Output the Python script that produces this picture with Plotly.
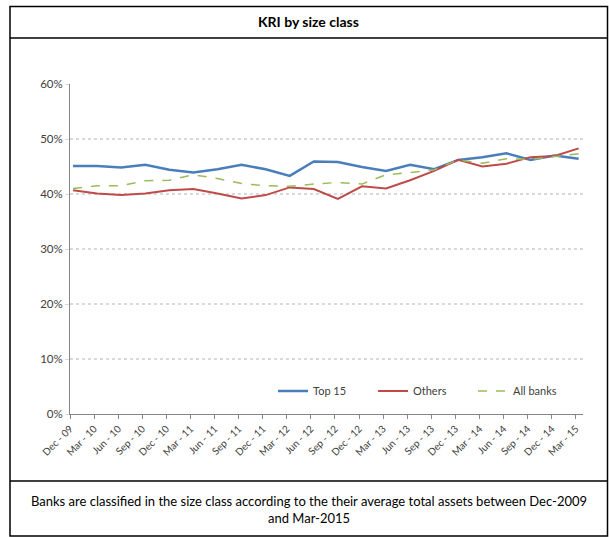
import plotly.graph_objects as go

# Quarter labels
quarters = ["Dec - 09", "Mar - 10", "Jun - 10", "Sep - 10", "Dec - 10", "Mar - 11",
            "Jun - 11", "Sep - 11", "Dec - 11", "Mar - 12", "Jun - 12", "Sep - 12",
            "Dec - 12", "Mar - 13", "Jun - 13", "Sep - 13", "Dec - 13", "Mar - 14",
            "Jun - 14", "Sep - 14", "Dec - 14", "Mar - 15"]

# KRI values (%) by size class
top15 = [45.1, 45.1, 44.8, 45.3, 44.4, 43.9, 44.5, 45.3, 44.5, 43.3, 45.9,
         45.8, 44.9, 44.2, 45.3, 44.5, 46.2, 46.7, 47.4, 46.2, 47.0, 46.4]
others = [40.7, 40.1, 39.8, 40.1, 40.7, 40.9, 40.1, 39.2, 39.8, 41.2, 40.9,
          39.1, 41.4, 41.0, 42.5, 44.2, 46.2, 45.0, 45.5, 46.7, 46.9, 48.3]
all_banks = [41.0, 41.5, 41.5, 42.4, 42.5, 43.5, 42.8, 41.9, 41.5, 41.4, 41.8,
             42.1, 41.8, 43.5, 43.9, 44.4, 46.2, 45.6, 46.4, 46.3, 46.8, 47.3]

y_ticks = [0, 10, 20, 30, 40, 50, 60]

W, H = 609, 537
M_L, M_R, M_T, M_B = 70, 26, 84, 123
PW = W - M_L - M_R
PH = H - M_T - M_B


def px(x):
    return (x - M_L) / PW


def py(y):
    return (H - M_B - y) / PH


idx = list(range(len(quarters)))
font = "Lato, 'Open Sans', sans-serif"

fig = go.Figure()
fig.add_trace(go.Scatter(x=idx, y=top15, mode="lines", name="Top 15",
                         line=dict(color="#4a7ebb", width=2.5)))
fig.add_trace(go.Scatter(x=idx, y=others, mode="lines", name="Others",
                         line=dict(color="#be4b48", width=2)))
fig.add_trace(go.Scatter(x=idx, y=all_banks, mode="lines", name="All banks",
                         line=dict(color="#9bbb59", width=1.5, dash="dash")))

# frame: outer box, title divider, caption divider
frame = dict(color="black", width=1.5)
fig.add_shape(type="rect", xref="paper", yref="paper",
              x0=px(10), x1=px(607.5), y0=py(536), y1=py(6.5), line=frame)
fig.add_shape(type="line", xref="paper", yref="paper",
              x0=px(10), x1=px(607.5), y0=py(38), y1=py(38), line=frame)
fig.add_shape(type="line", xref="paper", yref="paper",
              x0=px(10), x1=px(607.5), y0=py(481), y1=py(481), line=frame)

fig.add_annotation(text="<b>KRI by size class</b>", xref="paper", yref="paper",
                   x=px(308.5), y=py(22), xanchor="center", yanchor="middle",
                   showarrow=False,
                   font=dict(family=font, size=14, color="black"))
fig.add_annotation(text="Banks are classified in the size class according to the their average total assets between Dec-2009<br>and Mar-2015",
                   xref="paper", yref="paper", x=px(308.5), y=py(509),
                   xanchor="center", yanchor="middle",
                   showarrow=False, align="center",
                   font=dict(family=font, size=13, color="black"))

fig.update_layout(
    width=W, height=H,
    margin=dict(l=M_L, r=M_R, t=M_T, b=M_B),
    paper_bgcolor="white", plot_bgcolor="white",
    font=dict(family=font, size=11, color="#404040"),
    showlegend=True,
    legend=dict(orientation="h", x=px(273), y=py(391), xanchor="left",
                yanchor="middle", bgcolor="rgba(0,0,0,0)",
                entrywidth=55, entrywidthmode="pixels",
                font=dict(family=font, size=11, color="#404040")),
)
fig.update_xaxes(range=[-0.125, 21.18], tickmode="array",
                 tickvals=[i - 0.12 for i in idx], ticktext=quarters,
                 tickangle=-45, tickfont=dict(size=10, color="#404040"),
                 showgrid=False, showline=True, linecolor="#868686", linewidth=1,
                 ticks="outside", ticklen=4, tickcolor="#868686", zeroline=False)
fig.update_yaxes(range=[0, 60], tickmode="array", tickvals=y_ticks,
                 ticktext=[f"{v}%" for v in y_ticks],
                 tickfont=dict(size=11.5, color="#404040"),
                 showgrid=True, gridcolor="#d9d9d9", gridwidth=1.5, griddash="dot",
                 showline=True, linecolor="#868686", linewidth=1,
                 ticks="outside", ticklen=4, tickcolor="#d9d9d9", zeroline=False)

fig.write_html("out.html")
